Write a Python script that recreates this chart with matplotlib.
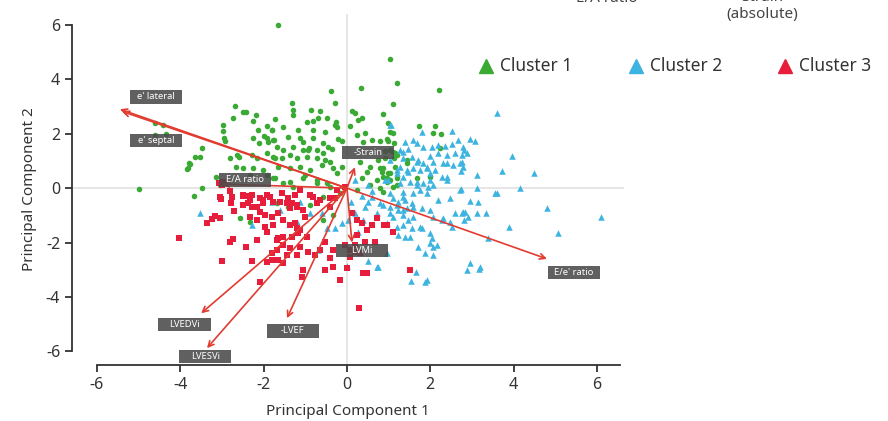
import matplotlib.pyplot as plt
from matplotlib.patches import Rectangle
from matplotlib.lines import Line2D

# PCA scores, cluster 1 (circles)
c1_x = [-1.65, -2.69, -2.49, -2.42, -2.18, -2.97, -2.97, -2.73, -2.25, -1.73, -2.13, -1.92,
        -1.80, -2.95, -2.93, -2.25, -1.99, -1.92, -2.11, -1.89, -1.77, -3.48, -3.65, -3.79,
        -3.81, -2.81, -2.64, -2.59, -2.28, -2.16, -1.92, -1.73, -2.66, -2.49, -2.25, -2.01,
        -2.33, -1.92, -1.77, -3.14, -4.60, -4.35, -4.60, -4.41, -4.99, -3.48, -3.67, -3.84,
        -3.77, -3.53, 1.03, 1.20, 0.34, -0.38, -0.29, 1.10, 2.21, -1.32, -1.29, -1.29,
        -0.86, -0.65, -0.96, -0.82, -0.70, -0.48, 0.12, 0.19, 0.26, 0.36, 0.86, -0.29,
        0.07, -1.53, -1.80, -1.18, -0.82, -0.53, 0.43, 0.24, 1.03, -1.75, -1.41, -1.13,
        -1.06, -0.82, -0.58, -0.22, -0.12, 0.79, 0.96, -1.68, -1.53, -1.29, -1.06, -0.91,
        -0.72, -0.46, -1.77, -1.56, -1.37, -1.20, -0.96, -0.72, -0.58, -0.41, 0.91, 1.10,
        1.20, -1.65, -1.37, -1.13, -0.89, -0.60, -0.34, -0.24, -0.12, 0.31, 0.55, 0.48,
        -1.73, -1.37, -1.06, -0.72, -0.48, 0.36, 0.72, 0.96, -0.26, -0.24, 1.73, 2.11,
        0.98, 2.06, 2.25, 2.23, 1.10, 0.98, 1.13, 1.03, 1.15, 1.13, 0.91, 1.44, 1.44,
        0.86, 0.84, 0.98, 0.96, 1.20, 1.68, 1.99, 1.10, 0.86, -0.94, -0.53, -0.36, 0.38,
        0.60, 0.74, 0.79, 0.86, 1.03, 1.15, -1.29, -1.01, -0.72, -0.58, -0.41, -0.17,
        0.24, 0.55, 0.79, 1.03, 1.20, -0.58, -0.34, -0.89, -2.57, -2.33, -3.05, -1.68,
        -1.41, -1.53]
c1_y = [6.00, 3.01, 2.79, 2.79, 2.68, 2.32, 2.10, 2.57, 2.46, 2.54, 2.13, 2.28,
        2.13, 1.84, 1.73, 1.84, 1.91, 1.84, 1.65, 1.69, 1.76, 1.47, 1.14, 0.92,
        0.74, 1.10, 1.21, 1.14, 1.21, 1.10, 1.29, 1.10, 0.77, 0.74, 0.74, 0.66,
        0.48, 0.48, 0.37, 0.40, 1.95, 2.00, 2.39, 2.32, -0.04, 0.00, -0.29, 0.70,
        0.88, 1.14, 4.74, 3.86, 3.68, 3.57, 3.13, 3.09, 3.60, 3.13, 2.87, 2.68,
        2.87, 2.83, 2.43, 2.46, 2.57, 2.57, 2.83, 2.76, 2.50, 2.57, 2.72, 2.32,
        2.28, 2.24, 2.13, 2.13, 2.13, 2.06, 2.02, 1.95, 2.06, 1.76, 1.88, 1.84,
        1.69, 1.84, 1.65, 1.80, 1.73, 1.73, 1.80, 1.51, 1.40, 1.51, 1.40, 1.47,
        1.40, 1.51, 1.14, 1.10, 1.21, 1.10, 1.14, 1.10, 1.29, 0.96, 1.36, 1.32,
        1.21, 0.77, 0.74, 0.77, 0.66, 0.85, 0.74, 0.55, 0.77, 0.96, 0.77, 0.59,
        0.37, 0.22, 0.37, 0.29, 0.18, 0.37, 0.29, 0.22, 2.43, 2.24, 2.28, 2.28,
        2.39, 2.02, 1.99, 1.47, 2.02, 1.73, 1.65, 1.40, 1.29, 1.10, 1.10, 1.03, 0.92,
        0.74, 0.59, 0.55, 0.37, 0.37, 0.37, 0.40, 0.04, -0.15, 1.40, 1.03, 1.43, 1.69,
        1.76, 1.03, 0.74, 0.40, 0.55, 0.77, 0.04, 0.48, 0.18, -0.33, 0.04, -0.18,
        -0.07, 0.11, 0.00, 0.29, 0.11, -1.18, -0.99, -0.62, -1.10, -1.25, 0.11, -0.55,
        -0.70, 0.18]

# cluster 2 (triangles)
c2_x = [1.03, 1.80, 2.52, 2.95, 3.07, 1.39, 1.58, 1.68, 1.82, 2.04, 2.18, 2.35, 2.52,
        2.66, 1.27, 1.46, 1.99, 2.18, 2.40, 2.59, 2.76, 2.88, 1.34, 1.56, 1.68, 1.82,
        2.06, 2.40, 2.54, 2.71, 2.78, 3.12, 3.60, 1.27, 1.46, 1.58, 1.75, 1.92, 1.99,
        2.28, 2.40, 1.20, 1.34, 0.91, 1.27, 1.51, 1.68, 1.82, 1.94, 2.06, 2.71, 3.12,
        1.34, 1.58, 1.75, 1.92, 1.10, 1.22, 1.39, 1.56, 2.18, 2.47, 2.95, 3.14, 0.86,
        1.03, 1.22, 1.44, 1.80, 1.99, 2.59, 2.78, 2.90, 3.12, 3.33, 1.10, 1.34, 1.46,
        1.58, 2.06, 2.28, 2.47, 0.96, 1.20, 1.34, 1.56, 1.75, 1.22, 1.39, 1.51, 1.99,
        2.04, 1.80, 3.38, 1.99, 2.06, 2.16, 1.70, 1.87, 2.06, 0.96, 2.95, 3.19, 3.60,
        3.96, 3.72, 4.48, 4.15, 3.55, 4.80, 6.09, 3.88, 5.06, 2.88, 3.17, 2.78, 2.81,
        2.76, 2.73, 2.73, 2.30, 2.83, 2.76, 2.81, 2.52, 1.53, 1.92, 0.50, 1.87, 0.72,
        0.00, 0.74, 1.65, -0.48, -0.60, -0.29, -0.12, 0.02, -0.89, -1.13, -0.70, 0.26,
        0.38, 0.43, 0.60, 0.72, 0.79, 1.03, 1.03, 1.20, 1.34, 1.34, 1.58, -3.53, -2.28,
        -1.80, -1.61, -1.20, 1.06, 1.34, 1.20, 1.44, 1.70, 1.92, 2.11, 2.30, 2.40, 1.99,
        1.68, 1.03, 0.98, 0.20, 0.50, 0.60, 0.35, 0.10, 0.20, 0.50]
c2_y = [2.32, 2.06, 2.10, 1.80, 1.73, 1.69, 1.76, 1.65, 1.51, 1.51, 1.58, 1.54, 1.62,
        1.76, 1.40, 1.43, 1.18, 1.29, 1.21, 1.29, 1.21, 1.29, 1.10, 1.14, 0.96, 0.92,
        0.96, 0.92, 0.85, 0.92, 0.77, 0.48, -0.18, 0.77, 0.59, 0.74, 0.66, 0.74, 0.55,
        0.40, 0.29, 0.55, 0.40, 0.29, 0.18, 0.22, 0.11, 0.18, 0.04, 0.11, -0.07, 0.00,
        -0.15, -0.18, -0.07, -0.18, -0.37, -0.51, -0.44, -0.55, -0.44, -0.37, -0.48, -0.51, -0.62,
        -0.70, -0.81, -0.73, -0.73, -0.81, -0.92, -0.88, -1.07, -0.92, -0.92, -1.07, -0.99, -1.18,
        -1.07, -1.07, -1.18, -1.25, -1.29, -1.43, -1.36, -1.47, -1.43, -1.73, -1.80, -1.80, -1.65,
        -1.84, -1.47, -1.84, -2.02, -2.17, -2.10, -2.17, -2.39, -2.46, -2.39, -2.76, -2.90, 2.76,
        1.18, 0.63, 0.55, 0.00, -0.18, -0.73, -1.07, -1.43, -1.65, -3.01, -2.98, 1.51, 1.40,
        0.96, 0.63, -0.04, -1.10, -0.88, -0.92, -1.18, -1.43, -3.42, -3.38, -2.68, -3.46, -2.90,
        -2.87, -2.90, -3.09, -1.47, -0.92, -1.47, -1.29, -1.18, -0.92, -0.51, -2.28, -1.62,
        -1.18, -0.70, -0.33, -0.92, -0.55, -0.18, -0.92, -0.62, -0.33, -0.81, -0.70, -0.92, -1.36,
        -0.51, -0.81, -1.25, 2.32, 1.32, 0.66, 0.66, 1.03, 0.77, 0.66, 0.92, 0.40, 0.29,
        0.22, 1.03, 0.29, 0.30, 0.10, -0.10, -0.30, -0.50, -0.90, -0.50]

# cluster 3 (squares)
c3_x = [-4.03, -3.36, -3.24, -3.17, -3.05, -3.02, -2.81, -2.78, -3.07, -2.97, -2.71, -2.49,
        -2.40, -2.28, -2.33, -2.16, -1.97, -1.77, -2.81, -2.73, -2.42, -3.00, -2.28, -2.16,
        -1.92, -1.65, -1.53, -1.80, -1.68, -1.92, -1.80, -1.65, -1.53, -2.09, -2.28, -2.16,
        -2.09, -2.01, -2.49, -2.33, -2.01, -1.85, -1.61, -1.44, -1.37, -1.20, -1.97, -1.80,
        -1.65, -1.53, -1.37, -1.20, -1.18, -1.68, -1.53, -1.37, -1.20, -1.44, -1.32, -1.20,
        -1.06, -1.01, -1.25, -1.13, -1.32, -0.96, -1.13, -0.94, -0.77, -0.65, -0.53, -0.34,
        -0.41, -0.53, -0.34, -1.06, -1.08, -0.17, 0.00, 0.07, 0.31, 0.19, 0.43, 0.67,
        0.24, 0.60, 0.96, 0.72, 1.10, 0.38, 0.48, 1.51, 0.29, -0.89, -0.65, -0.41, -0.29,
        -0.24, -0.05, 0.12, 0.24, 0.36, 0.48, -0.05, 0.07, 0.19, 0.89, -3.00, -3.05,
        -2.76, -2.49, -2.37, -2.09, -1.92, -1.77, -1.56, -1.41, -1.25, -1.13, -0.82, -0.72,
        -0.41]
c3_y = [-1.84, -1.29, -1.14, -1.03, -1.10, -0.40, -0.11, -0.55, 0.18, 0.22, -0.85, -0.62,
        -0.29, -0.26, -1.07, -1.18, -1.43, -1.36, -1.99, -1.88, -2.17, -2.68, -2.68, -1.91,
        -1.62, -1.84, -1.80, -2.39, -2.28, -2.72, -2.65, -2.65, -2.76, -3.46, -0.70, -0.70,
        -0.88, -0.55, -0.26, -0.44, -0.44, -0.33, -0.51, -0.55, -0.73, -0.62, -0.99, -1.07,
        -0.92, -1.18, -1.36, -1.47, -1.65, -1.91, -2.10, -2.21, -2.46, -2.46, -0.55, -0.70,
        -0.81, -1.07, -1.29, -1.54, -1.80, -1.80, -2.17, -2.35, -2.46, -2.28, -1.99, -2.28,
        -2.57, -3.01, -2.90, -3.01, -3.27, -3.38, -2.94, -2.54, -2.39, -2.10, -1.99, -1.99,
        -1.73, -1.36, -1.36, -1.10, -1.62, -3.13, -3.13, -3.01, -4.41, -0.26, -0.44, -0.70,
        -0.37, -0.07, 0.04, -0.92, -1.18, -1.29, -1.54, -2.10, -2.28, -2.35, -1.36, 0.11,
        -0.33, -0.33, -0.29, -0.55, -0.37, -0.26, -0.51, -0.18, -0.37, -0.26, -0.07, -0.33,
        -0.55, -0.37]

# variable loadings (arrow tips) and where their names sit
var_names = ["e' lateral", "e' septal", "E/A ratio", "-Strain", "E/e' ratio",
             "LVMi", "-LVEF", "LVEDVi", "LVESVi"]
var_x = [-5.45, -5.40, -3.00, 0.19, 4.80, 0.12, -1.44, -3.50, -3.36]
var_y = [2.90, 2.82, 0.15, 0.77, -2.60, -2.00, -4.78, -4.60, -5.88]
lab_x = [-4.58, -4.58, -2.45, 0.50, 5.45, 0.36, -1.30, -3.90, -3.40]
lab_y = [3.35, 1.76, 0.30, 1.32, -3.10, -2.30, -5.25, -5.00, -6.18]

cluster_names = ["Cluster 1", "Cluster 2", "Cluster 3"]
green, blue, red = "#3aaa35", "#3db4e0", "#e61e3c"
arrow_red = "#e23b30"

plt.rcParams['font.family'] = ['Noto Sans', 'DejaVu Sans']
plt.rcParams['axes.unicode_minus'] = False

fig = plt.figure(figsize=(8.88, 4.21), dpi=100)
ax = fig.add_axes([72 / 888, 56 / 421, 552 / 888, 351 / 421])

ax.axhline(0, color="#e2e2e2", lw=1.2, zorder=0)
ax.axvline(0, color="#e2e2e2", lw=1.2, zorder=0)

ax.scatter(c1_x, c1_y, s=16, marker="o", color=green, linewidths=0, zorder=2)
ax.scatter(c2_x, c2_y, s=22, marker="^", color=blue, linewidths=0, zorder=2)
ax.scatter(c3_x, c3_y, s=15, marker="s", color=red, linewidths=0, zorder=2)

# loading arrows from the origin
for vx, vy in zip(var_x, var_y):
    ax.annotate("", xy=(vx, vy), xytext=(0, 0),
                arrowprops=dict(arrowstyle="->", color=arrow_red, lw=1.2,
                                shrinkA=0, shrinkB=0, mutation_scale=10),
                zorder=3)

# fixed-size grey name tags
box_w, box_h = 1.25, 0.48
for name, lx, ly in zip(var_names, lab_x, lab_y):
    ax.add_patch(Rectangle((lx - box_w / 2, ly - box_h / 2), box_w, box_h,
                           facecolor="#4a4a4a", edgecolor="none", alpha=0.88,
                           zorder=4))
    ax.text(lx, ly, name, color="white", fontsize=6.8, ha="center", va="center",
            zorder=5)

ax.set_xlim(-6.6, 6.65)
ax.set_ylim(-6.5, 6.4)
ax.set_xticks(range(-6, 7, 2))
ax.set_yticks(range(-6, 7, 2))
ax.spines["top"].set_visible(False)
ax.spines["right"].set_visible(False)
ax.spines["bottom"].set_bounds(-6, 6.55)
ax.spines["left"].set_bounds(-6, 6)
for side in ("bottom", "left"):
    ax.spines[side].set_color("#333333")
    ax.spines[side].set_linewidth(1.3)
ax.tick_params(colors="#333333", labelcolor="#333333", labelsize=11.5,
               length=5, width=1.3)

ax.set_xlabel("Principal Component 1", fontsize=11, fontweight="semibold",
              color="#333333", labelpad=8)
ax.set_ylabel("Principal Component 2", fontsize=11, fontweight="semibold",
              color="#333333", labelpad=6)

# cluster key along the top right
for name, col, kx in zip(cluster_names, [green, blue, red], [486, 636, 785]):
    fig.add_artist(Line2D([kx / 888], [1 - 66 / 421], transform=fig.transFigure,
                          marker="^", markersize=10, color=col, linestyle="none"))
    fig.text((kx + 14) / 888, 1 - 66 / 421, name, fontsize=12.5, color="#333333",
             va="center", ha="left")

fig.text(607 / 888, 1 + 1 / 421, "E/A ratio", fontsize=11, color="#444444",
         ha="center", va="center")
fig.text(762 / 888, 1 - 18 / 421, "Strain\n(absolute)", fontsize=11, color="#444444",
         ha="center", va="baseline", linespacing=1.15)

fig.savefig("out.png", dpi=100)
